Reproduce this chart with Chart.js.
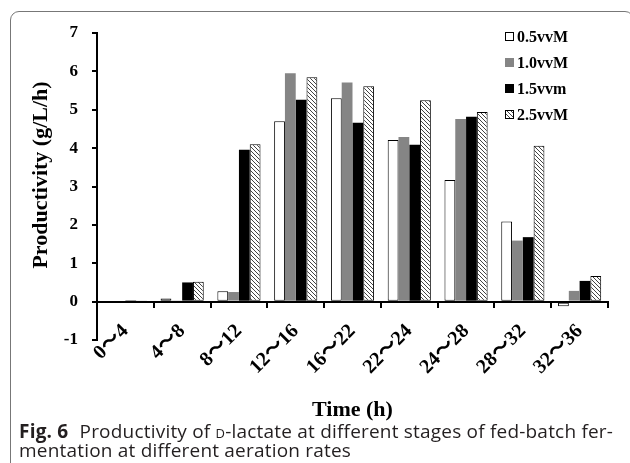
<!DOCTYPE html>
<html>
<head>
<meta charset="utf-8">
<script src="https://cdn.jsdelivr.net/npm/chart.js@4.4.1/dist/chart.umd.min.js"></script>
<style>
    html, body { margin: 0; padding: 0; background: #fff; overflow: hidden; }
    body { width: 630px; height: 463px; position: relative; }
    #card {
        position: absolute; left: 10px; top: 11px; width: 624px; height: 480px;
        border: 1.5px solid #777; border-radius: 9px; box-sizing: border-box;
    }
    #wrap { position: absolute; left: 0; top: 0; width: 630px; height: 463px; }
    #caption {
        position: absolute; left: 19px; top: 422px; width: 610px;
        font-family: "Open Sans", "Noto Sans", sans-serif; font-size: 19px; line-height: 19px;
        letter-spacing: 0.2px; color: #231f20; white-space: nowrap;
    }
    #caption b { font-weight: 700; margin-right: 6px; }
    .sc { font-variant: small-caps; }
</style>
</head>
<body>
<div id="card"></div>
<div id="wrap"><canvas id="prodChart" width="630" height="463"></canvas></div>
<div id="caption"><b>Fig. 6</b> Productivity of <span class="sc">d</span>-lactate at different stages of fed-batch fer-<br>mentation at different aeration rates</div>
<script>
// ---- data ----
const categories = ['0～4', '4～8', '8～12', '12～16', '16～22', '22～24', '24～28', '28～32', '32～36'];
const seriesLabels = ['0.5vvM', '1.0vvM', '1.5vvm', '2.5vvM'];
const vvm05 = [0, 0.08, 0.27, 4.70, 5.30, 4.21, 3.17, 2.09, -0.12];
const vvm10 = [0, 0.02, 0.25, 5.95, 5.71, 4.29, 4.76, 1.59, 0.28];
const vvm15 = [0.01, 0.50, 3.96, 5.26, 4.66, 4.09, 4.82, 1.68, 0.54];
const vvm25 = [0.03, 0.52, 4.10, 5.85, 5.61, 5.25, 4.94, 4.06, 0.67];
const yMin = -1, yMax = 7, yStep = 1;
const xTitle = 'Time (h)';
const yTitle = 'Productivity (g/L/h)';

const SERIF = '"Liberation Serif", "Times New Roman", serif';
const SERIF_CJK = '"Liberation Serif", "Noto Sans CJK JP", serif';

document.addEventListener('DOMContentLoaded', function() {
    const ctx = document.getElementById('prodChart');

    // diagonal hatch used for the 2.5vvM bars
    function makeHatch() {
        const c = document.createElement('canvas');
        c.width = 4; c.height = 4;
        const g = c.getContext('2d');
        g.fillStyle = '#fff';
        g.fillRect(0, 0, 4, 4);
        g.strokeStyle = '#444';
        g.lineWidth = 1;
        g.beginPath();
        g.moveTo(0, 0); g.lineTo(4, 4);
        g.moveTo(-1, 3); g.lineTo(1, 5);
        g.moveTo(3, -1); g.lineTo(5, 1);
        g.stroke();
        return ctx.getContext('2d').createPattern(c, 'repeat');
    }
    const hatch = makeHatch();

    const styles = [
        { bg: '#fff', border: '#000', bw: 1 },
        { bg: '#858585', border: '#858585', bw: 0 },
        { bg: '#000', border: '#000', bw: 0 },
        { bg: hatch, border: '#000', bw: 1 }
    ];
    const values = [vvm05, vvm10, vvm15, vvm25];

    // legend + axis titles drawn on top
    const decor = {
        id: 'decor',
        afterDraw(chart) {
            const c = chart.ctx;
            c.save();
            c.fillStyle = '#000';
            c.textBaseline = 'middle';

            // legend inside the plot, top right
            c.font = 'bold 16px ' + SERIF;
            c.textAlign = 'left';
            chart.data.datasets.forEach((ds, i) => {
                const y = 37 + i * 26;
                c.fillStyle = ds.backgroundColor;
                c.fillRect(505, y - 5, 9, 9);
                if (ds.borderWidth) {
                    c.strokeStyle = '#000';
                    c.lineWidth = 1;
                    c.strokeRect(505.5, y - 4.5, 8, 8);
                }
                c.fillStyle = '#000';
                c.fillText(ds.label, 517, y + 1);
            });

            // axis titles
            c.font = 'bold 22px ' + SERIF;
            c.textAlign = 'center';
            const a = chart.chartArea;
            c.fillText(xTitle, (a.left + a.right) / 2, 410);
            c.translate(41, 175);
            c.rotate(-Math.PI / 2);
            c.fillText(yTitle, 0, 0);
            c.restore();
        }
    };

    new Chart(ctx, {
        type: 'bar',
        data: {
            labels: categories,
            datasets: seriesLabels.map((lab, i) => ({
                label: lab,
                data: values[i],
                backgroundColor: styles[i].bg,
                borderColor: styles[i].border,
                borderWidth: styles[i].bw,
                borderSkipped: false,
                categoryPercentage: 0.76,
                barPercentage: 1.0
            }))
        },
        options: {
            responsive: false,
            animation: false,
            layout: { padding: { top: 33, right: 22, bottom: 123, left: 0 } },
            plugins: {
                legend: { display: false },
                tooltip: { enabled: false }
            },
            scales: {
                x: {
                    position: { y: 0 },
                    afterFit: function(scale) { scale.height = 463 - 339; },
                    grid: { drawOnChartArea: false, drawTicks: true, tickLength: 5, color: '#000', lineWidth: 2 },
                    border: { color: '#000', width: 2 },
                    ticks: {
                        color: '#000', maxRotation: 45, minRotation: 45, padding: 13,
                        font: { family: SERIF_CJK, size: 20, weight: 'bold' }
                    }
                },
                y: {
                    min: yMin, max: yMax,
                    afterFit: function(scale) { scale.width = 97; },
                    grid: { drawOnChartArea: false, drawTicks: true, tickLength: 5, color: '#000', lineWidth: 2 },
                    border: { color: '#000', width: 2 },
                    ticks: {
                        stepSize: yStep, color: '#000', padding: 14,
                        font: { family: SERIF, size: 17, weight: 'bold' }
                    }
                }
            }
        },
        plugins: [decor]
    });
});
</script>
</body>
</html>
